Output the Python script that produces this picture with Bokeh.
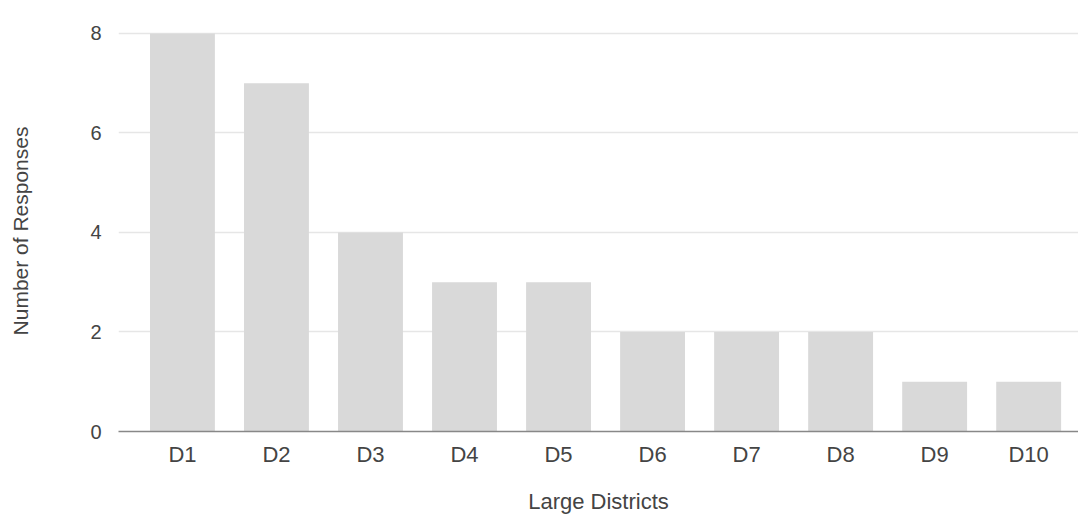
from bokeh.plotting import figure
from bokeh.models import Range1d, FixedTicker, ColumnDataSource
from bokeh.embed import file_html
from bokeh.resources import INLINE

districts = ["D1", "D2", "D3", "D4", "D5", "D6", "D7", "D8", "D9", "D10"]
responses = [8, 7, 4, 3, 3, 2, 2, 2, 1, 1]
y_ticks = [0, 2, 4, 6, 8]

xs = list(range(1, len(districts) + 1))
src = ColumnDataSource(dict(x=xs, top=responses, name=districts))

p = figure(width=1078, height=516, output_backend="svg", toolbar_location=None,
           x_range=Range1d(0.32, 10.53), y_range=Range1d(0, 8.06),
           min_border_left=118, min_border_right=0, min_border_top=30, min_border_bottom=84)
p.outline_line_color = None
p.background_fill_color = "white"

p.vbar(x="x", top="top", width=0.69, source=src, fill_color="#d9d9d9", line_color=None)

font = "Liberation Sans"
p.xaxis.ticker = FixedTicker(ticks=xs)
p.xaxis.major_label_overrides = {x: d for x, d in zip(xs, districts)}
p.yaxis.ticker = FixedTicker(ticks=y_ticks)

for ax in (p.xaxis, p.yaxis):
    ax.major_tick_line_color = None
    ax.minor_tick_line_color = None
    ax.major_label_text_font = font
    ax.major_label_text_color = "#444444"
    ax.axis_label_text_font = font
    ax.axis_label_text_font_style = "normal"
    ax.axis_label_text_color = "#444444"

p.xaxis.major_label_text_font_size = "22px"
p.xaxis.axis_label_text_font_size = "22px"
p.yaxis.major_label_text_font_size = "20px"
p.yaxis.axis_label_text_font_size = "21px"

p.xaxis.axis_line_color = "#888888"
p.xaxis.axis_line_width = 1.5
p.yaxis.axis_line_color = None
p.xaxis.major_label_standoff = 4
p.yaxis.major_label_standoff = 11
p.xaxis.axis_label = "Large Districts"
p.yaxis.axis_label = "Number of Responses"
p.xaxis.axis_label_standoff = 19
p.yaxis.axis_label_standoff = 55

p.xgrid.grid_line_color = None
p.ygrid.grid_line_color = "#e6e6e6"
p.ygrid.grid_line_width = 1.5

open("out.html", "w").write(file_html(p, INLINE))
